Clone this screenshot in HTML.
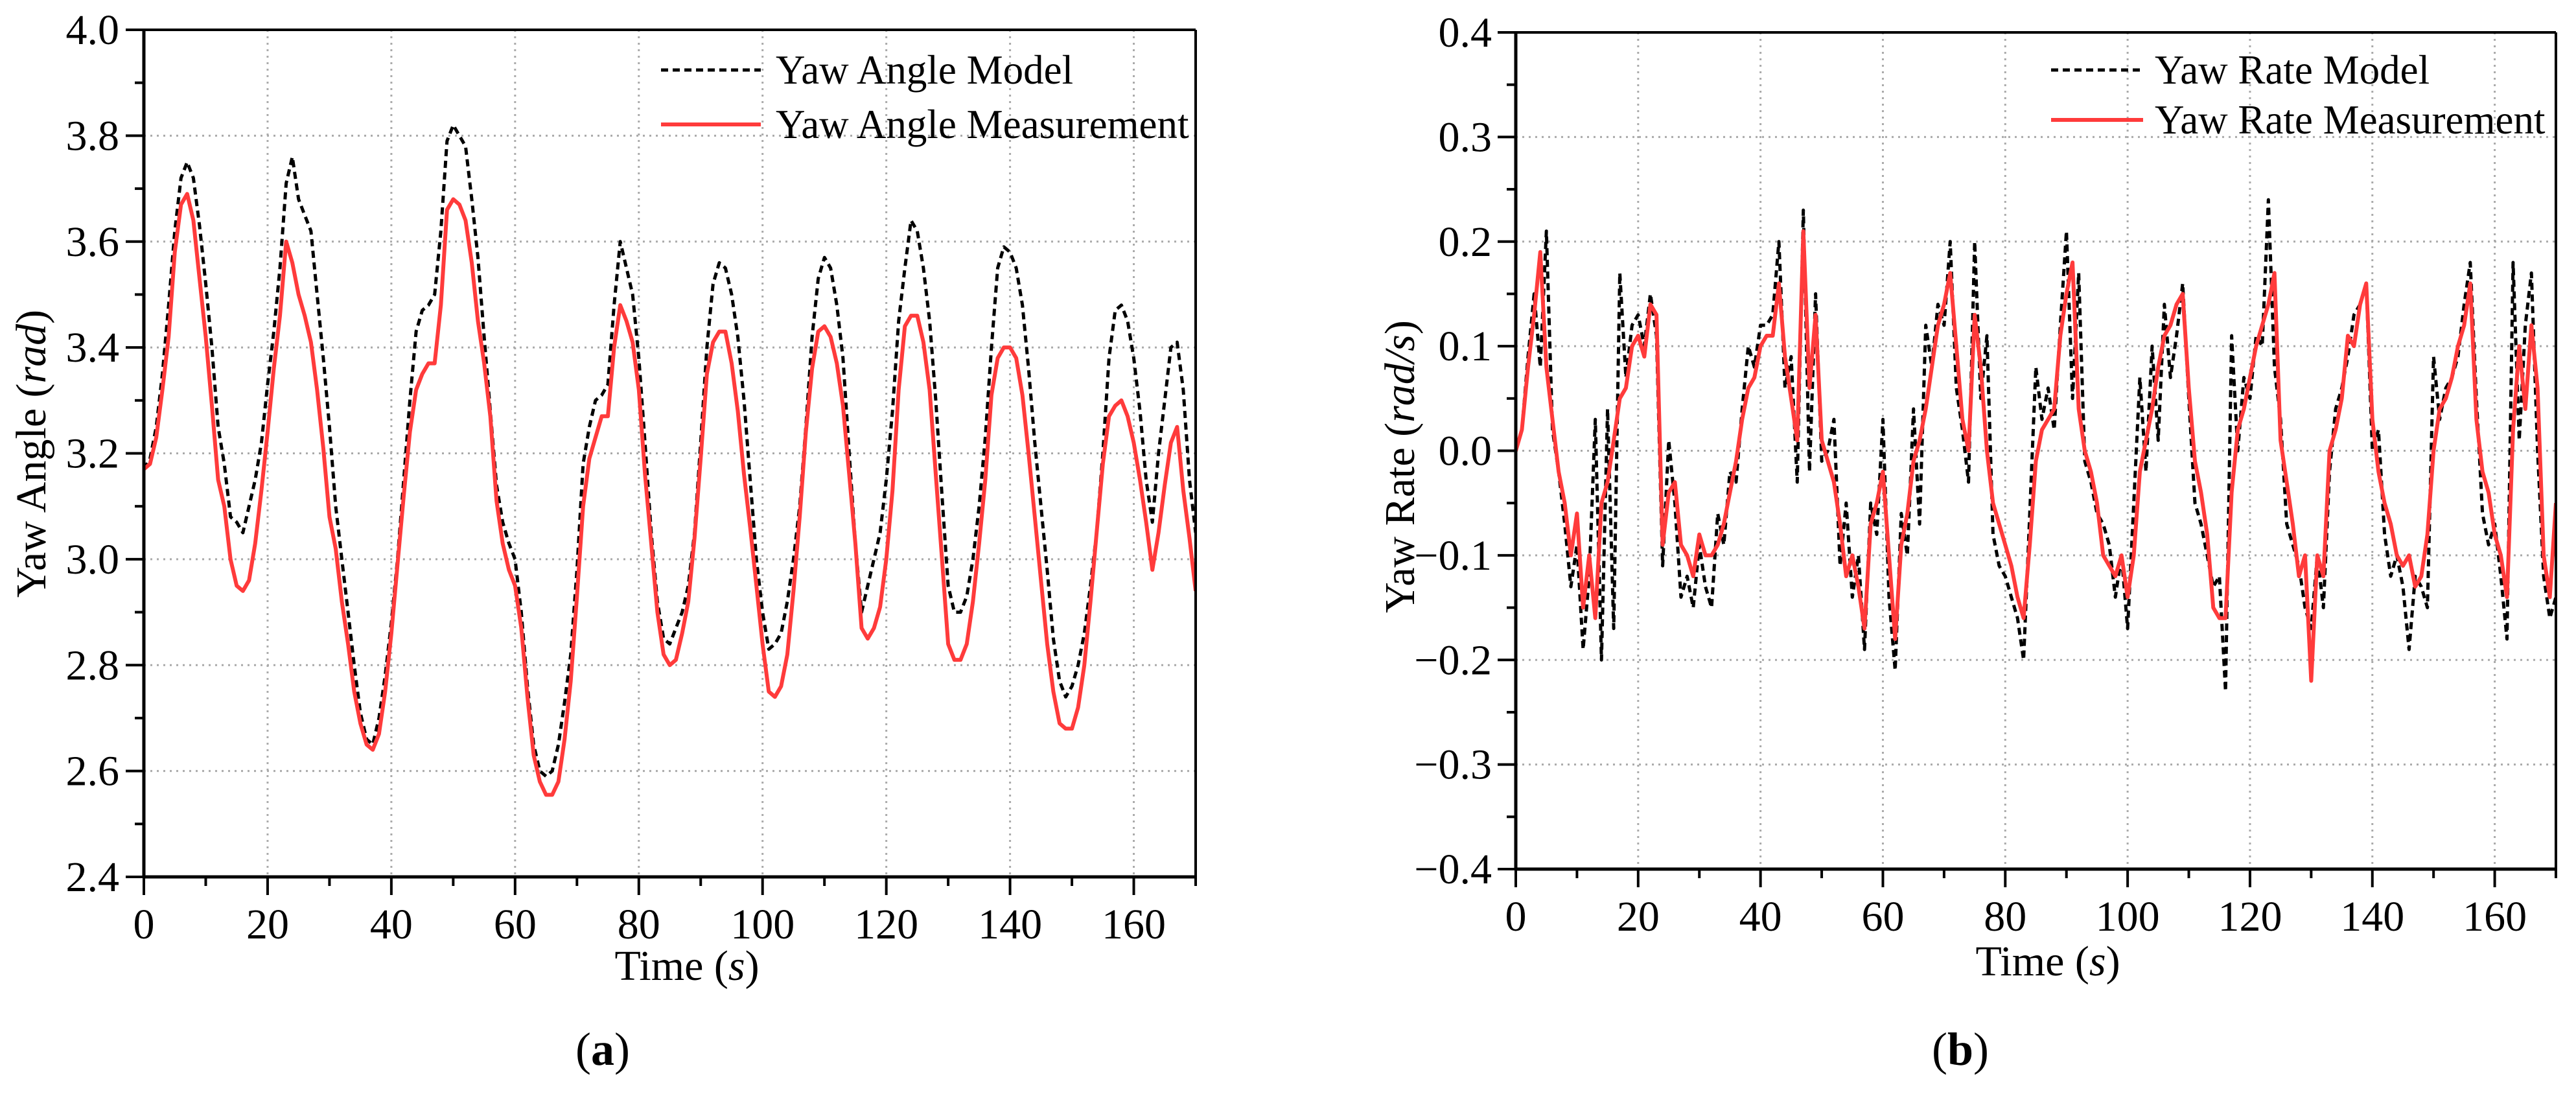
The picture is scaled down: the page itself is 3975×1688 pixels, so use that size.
<!DOCTYPE html>
<html><head><meta charset="utf-8"><style>
html,body{margin:0;padding:0;background:#fff;}
svg{display:block;}
text{font-family:"Liberation Serif",serif;fill:#000;}
</style></head><body>
<svg id="fig" width="3975" height="1688" viewBox="0 0 3975 1688" xmlns="http://www.w3.org/2000/svg">
<g id="pa"></g>
<g id="pb"></g>
</svg>
<script>
const timeA = Array.from({length:171},(_, i)=>i);
const angleMeas = [3.17,3.18,3.23,3.32,3.42,3.58,3.67,3.69,3.64,3.53,3.42,3.29,3.15,3.10,3.00,2.95,2.94,2.96,3.03,3.13,3.24,3.36,3.46,3.60,3.56,3.50,3.46,3.41,3.32,3.21,3.08,3.02,2.92,2.84,2.75,2.69,2.65,2.64,2.67,2.75,2.86,2.99,3.12,3.24,3.32,3.35,3.37,3.37,3.48,3.66,3.68,3.67,3.64,3.56,3.45,3.37,3.27,3.11,3.03,2.98,2.95,2.87,2.74,2.63,2.58,2.555,2.555,2.58,2.66,2.77,2.93,3.10,3.19,3.23,3.27,3.27,3.40,3.48,3.45,3.41,3.32,3.16,3.03,2.90,2.82,2.80,2.81,2.86,2.92,3.04,3.19,3.35,3.41,3.43,3.43,3.37,3.28,3.16,3.06,2.95,2.84,2.75,2.74,2.76,2.82,2.94,3.08,3.24,3.36,3.43,3.44,3.42,3.37,3.29,3.16,3.03,2.87,2.85,2.87,2.91,3.00,3.13,3.32,3.44,3.46,3.46,3.41,3.32,3.16,3.00,2.84,2.81,2.81,2.84,2.92,3.03,3.15,3.31,3.38,3.40,3.40,3.38,3.31,3.20,3.08,2.96,2.84,2.75,2.69,2.68,2.68,2.72,2.80,2.92,3.05,3.18,3.27,3.29,3.30,3.27,3.22,3.15,3.07,2.98,3.05,3.14,3.22,3.25,3.13,3.04,2.94];
const angleModel = [3.17,3.19,3.25,3.35,3.48,3.62,3.72,3.75,3.72,3.63,3.52,3.40,3.25,3.18,3.08,3.07,3.05,3.10,3.15,3.22,3.33,3.43,3.55,3.71,3.76,3.68,3.65,3.62,3.50,3.38,3.25,3.10,3.00,2.90,2.80,2.71,2.66,2.65,2.70,2.78,2.88,3.00,3.15,3.30,3.43,3.47,3.48,3.50,3.62,3.79,3.82,3.80,3.78,3.68,3.57,3.42,3.28,3.14,3.07,3.03,3.00,2.90,2.76,2.65,2.60,2.59,2.60,2.65,2.73,2.82,2.98,3.18,3.25,3.30,3.31,3.33,3.48,3.60,3.55,3.50,3.38,3.22,3.05,2.92,2.85,2.84,2.87,2.90,2.95,3.05,3.22,3.40,3.52,3.56,3.55,3.50,3.42,3.30,3.15,3.00,2.90,2.83,2.84,2.86,2.92,3.00,3.10,3.25,3.42,3.53,3.57,3.55,3.48,3.38,3.20,3.03,2.90,2.95,3.00,3.05,3.15,3.28,3.45,3.55,3.64,3.62,3.55,3.45,3.30,3.12,2.95,2.90,2.90,2.93,3.00,3.10,3.23,3.40,3.55,3.59,3.58,3.55,3.48,3.36,3.22,3.10,2.98,2.85,2.77,2.74,2.76,2.80,2.86,2.95,3.05,3.20,3.38,3.47,3.48,3.45,3.38,3.28,3.15,3.07,3.20,3.30,3.40,3.41,3.32,3.15,3.05];
const rateMeas = [0.00,0.02,0.08,0.13,0.19,0.08,0.03,-0.02,-0.05,-0.10,-0.06,-0.15,-0.10,-0.16,-0.05,-0.03,0.01,0.05,0.06,0.10,0.11,0.09,0.14,0.13,-0.09,-0.04,-0.03,-0.09,-0.10,-0.12,-0.08,-0.10,-0.10,-0.09,-0.07,-0.04,-0.01,0.03,0.06,0.07,0.10,0.11,0.11,0.16,0.09,0.05,0.01,0.21,0.06,0.13,0.01,-0.01,-0.03,-0.07,-0.12,-0.10,-0.13,-0.17,-0.07,-0.05,-0.02,-0.10,-0.18,-0.09,-0.06,-0.01,0.01,0.04,0.08,0.12,0.14,0.17,0.10,0.03,0.00,0.13,0.08,0.00,-0.05,-0.07,-0.09,-0.11,-0.14,-0.16,-0.09,-0.01,0.02,0.03,0.04,0.11,0.15,0.18,0.04,0.00,-0.02,-0.05,-0.10,-0.11,-0.12,-0.10,-0.14,-0.10,-0.02,0.01,0.04,0.08,0.11,0.12,0.14,0.15,0.06,-0.01,-0.04,-0.08,-0.15,-0.16,-0.16,-0.04,0.02,0.04,0.07,0.10,0.12,0.14,0.17,0.01,-0.03,-0.07,-0.12,-0.10,-0.22,-0.10,-0.12,0.00,0.02,0.05,0.11,0.10,0.14,0.16,0.03,-0.02,-0.05,-0.07,-0.10,-0.11,-0.10,-0.13,-0.12,-0.08,0.00,0.04,0.05,0.07,0.10,0.12,0.16,0.03,-0.02,-0.04,-0.08,-0.10,-0.14,0.02,0.10,0.04,0.12,0.06,-0.10,-0.14,-0.05];
const rateModel = [0.00,0.02,0.09,0.15,0.08,0.21,0.02,-0.02,-0.07,-0.13,-0.09,-0.19,-0.12,0.03,-0.20,0.04,-0.17,0.17,0.07,0.12,0.13,0.10,0.15,0.11,-0.11,0.01,-0.05,-0.14,-0.12,-0.15,-0.09,-0.13,-0.15,-0.06,-0.09,-0.02,-0.03,0.04,0.10,0.08,0.12,0.12,0.13,0.20,0.06,0.09,-0.03,0.23,-0.02,0.15,-0.01,0.00,0.03,-0.11,-0.05,-0.14,-0.10,-0.19,-0.05,-0.08,0.03,-0.14,-0.21,-0.06,-0.10,0.04,-0.07,0.12,0.08,0.14,0.12,0.20,0.06,0.02,-0.03,0.20,0.05,0.11,-0.08,-0.11,-0.12,-0.14,-0.16,-0.20,-0.06,0.08,0.03,0.06,0.02,0.12,0.21,0.05,0.17,-0.01,-0.03,-0.06,-0.07,-0.09,-0.14,-0.10,-0.17,-0.05,0.07,-0.02,0.10,0.01,0.14,0.07,0.11,0.16,0.05,-0.05,-0.07,-0.10,-0.13,-0.12,-0.23,0.11,0.00,0.07,0.05,0.11,0.10,0.24,0.08,0.03,-0.07,-0.09,-0.11,-0.15,-0.17,-0.10,-0.15,-0.02,0.04,0.06,0.09,0.13,0.14,0.16,0.00,0.02,-0.08,-0.12,-0.10,-0.13,-0.19,-0.12,-0.13,-0.15,0.09,0.03,0.06,0.07,0.09,0.14,0.18,0.05,-0.06,-0.09,-0.07,-0.12,-0.18,0.18,0.01,0.12,0.17,0.00,-0.12,-0.16,-0.14];
const xTicks = [0,20,40,60,80,100,120,140,160];
const yTicksA = ["2.4","2.6","2.8","3.0","3.2","3.4","3.6","3.8","4.0"];
const yTicksB = ["\u22120.4","\u22120.3","\u22120.2","\u22120.1","0.0","0.1","0.2","0.3","0.4"];

const NS="http://www.w3.org/2000/svg";
function mk(parent,tag,attrs,txt){const e=document.createElementNS(NS,tag);for(const k in attrs)e.setAttribute(k,attrs[k]);if(txt!==undefined)e.textContent=txt;parent.appendChild(e);return e;}

function chart(g,cfg){
  const {L,R,T,B,ymin,ymax,ystep,yLabels,labelRight} = cfg;
  const sx=t=>L+(t-0)/170*(R-L);
  const sy=v=>B-(v-ymin)/(ymax-ymin)*(B-T);
  const grid=mk(g,'g',{});
  
  
  xTicks.forEach(t=>{ if(t>0) mk(grid,'line',{x1:sx(t),x2:sx(t),y1:T,y2:B,stroke:'#aaa','stroke-width':3,'stroke-dasharray':'3 7'}); });
  yLabels.forEach((l,i)=>{const v=ymin+i*ystep; if(i>0&&i<yLabels.length-1) mk(grid,'line',{x1:L,x2:R,y1:sy(v),y2:sy(v),stroke:'#aaa','stroke-width':3,'stroke-dasharray':'3 7'});});
  const path=(arr)=>arr.map((v,i)=>(i?'L':'M')+sx(timeA[i]).toFixed(1)+' '+sy(v).toFixed(1)).join(' ');
  const clipId=cfg.id+'clip';
  const cp=mk(g,'clipPath',{id:clipId}); mk(cp,'rect',{x:L,y:T,width:R-L,height:B-T});
  const m=mk(g,'path',{d:path(cfg.model),fill:'none',stroke:'#000','stroke-width':5,'stroke-dasharray':'11 7','clip-path':`url(#${clipId})`,'stroke-linejoin':'round'});
  
  
  const r=mk(g,'path',{d:path(cfg.meas),fill:'none',stroke:'#ff3b3b','stroke-width':6,'clip-path':`url(#${clipId})`,'stroke-linejoin':'round'});
  
  
  mk(g,'line',{x1:L,x2:R,y1:T,y2:T,stroke:'#000','stroke-width':4});
  mk(g,'line',{x1:R,x2:R,y1:T,y2:B,stroke:'#000','stroke-width':4});
  mk(g,'line',{x1:L,x2:L,y1:T-2,y2:B+2,stroke:'#000','stroke-width':5});
  mk(g,'line',{x1:L-2,x2:R+2,y1:B,y2:B,stroke:'#000','stroke-width':5});
  const xa=mk(g,'g',{});
  
  
  for(let t=0;t<=170;t+=10){const maj=t%20===0; mk(xa,'line',{x1:sx(t),x2:sx(t),y1:B,y2:B+(maj?28:14),stroke:'#000','stroke-width':4});}
  xTicks.forEach(t=>{const tx=mk(xa,'text',{x:sx(t),y:B+95,'font-size':66,'text-anchor':'middle'},String(t));
    
    });
  const ya=mk(g,'g',{});
  
  
  for(let i=0;i<=16;i++){const v=ymin+i*ystep/2; mk(ya,'line',{x1:L-(i%2===0?28:14),x2:L,y1:sy(v),y2:sy(v),stroke:'#000','stroke-width':4});}
  yLabels.forEach((l,i)=>{const v=ymin+i*ystep; const tx=mk(ya,'text',{x:labelRight,y:sy(v)+22,'font-size':66,'text-anchor':'end'},l);
    
    });
  const xt=mk(g,'text',{x:cfg.xtX,y:cfg.xtY,'font-size':66,'text-anchor':'middle'});
  
  
  mk(xt,'tspan',{},'Time ('); mk(xt,'tspan',{'font-style':'italic'},'s'); mk(xt,'tspan',{},')');
  const yt=mk(g,'text',{x:0,y:0,'font-size':66,'text-anchor':'middle',transform:`translate(${cfg.ytX},${cfg.ytY}) rotate(-90)`});
  
  
  mk(yt,'tspan',{},cfg.ytitle+' ('); mk(yt,'tspan',{'font-style':'italic'},cfg.yunit); mk(yt,'tspan',{},')');
  const lg=mk(g,'g',{});
  
  
  const e1=mk(lg,'g',{});
  
  
  mk(e1,'line',{x1:cfg.lgX1,x2:cfg.lgX2,y1:cfg.lgY1,y2:cfg.lgY1,stroke:'#000','stroke-width':5,'stroke-dasharray':'11 7'});
  mk(e1,'text',{x:cfg.lgT,y:cfg.lgY1+21,'font-size':63},cfg.leg1);
  const e2=mk(lg,'g',{});
  
  
  mk(e2,'line',{x1:cfg.lgX1,x2:cfg.lgX2,y1:cfg.lgY2,y2:cfg.lgY2,stroke:'#ff3b3b','stroke-width':6});
  mk(e2,'text',{x:cfg.lgT,y:cfg.lgY2+21,'font-size':63},cfg.leg2);
  const pl=mk(g,'text',{x:cfg.plX,y:1643,'font-size':72,'text-anchor':'middle'});
  
  
  mk(pl,'tspan',{},'('); mk(pl,'tspan',{'font-weight':'bold'},cfg.plTxt); mk(pl,'tspan',{},')');
}

chart(document.getElementById('pa'),{id:'a',L:222,R:1845,T:46,B:1353,ymin:2.4,ymax:4.0,ystep:0.2,yLabels:yTicksA,labelRight:184,
  model:angleModel,meas:angleMeas,xtX:1060,xtY:1512,ytX:70,ytY:700,ytitle:'Yaw Angle',yunit:'rad',
  lgX1:1020,lgX2:1174,lgY1:108,lgY2:192,lgT:1197,leg1:'Yaw Angle Model',leg2:'Yaw Angle Measurement',plX:930,plTxt:'a'});
chart(document.getElementById('pb'),{id:'b',L:2339,R:3944,T:50,B:1341,ymin:-0.4,ymax:0.4,ystep:0.1,yLabels:yTicksB,labelRight:2302,
  model:rateModel,meas:rateMeas,xtX:3160,xtY:1505,ytX:2182,ytY:720,ytitle:'Yaw Rate',yunit:'rad/s',
  lgX1:3165,lgX2:3307,lgY1:108,lgY2:185,lgT:3325,leg1:'Yaw Rate Model',leg2:'Yaw Rate Measurement',plX:3025,plTxt:'b'});
</script>
</body></html>
